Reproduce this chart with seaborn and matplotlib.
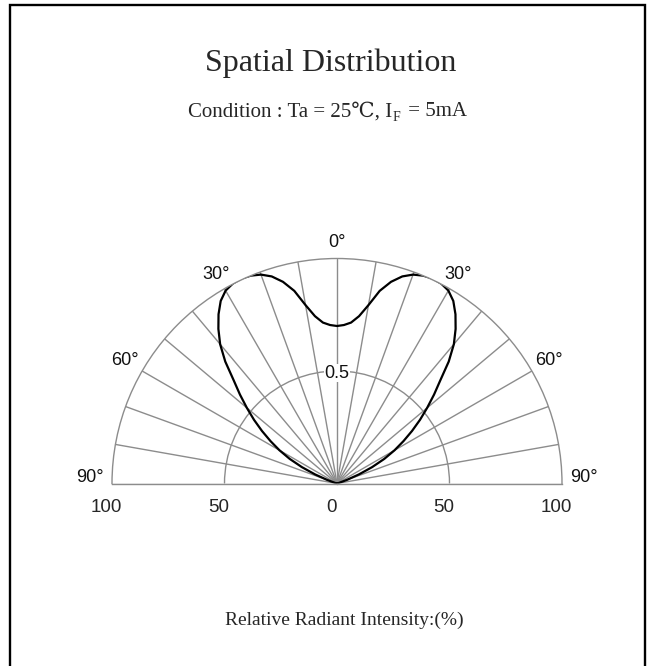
"""
Spatial distribution (polar radiation pattern) of the LED,
saved as out.png
"""

import numpy as np
import pandas as pd
import matplotlib.pyplot as plt
import seaborn as sns
from matplotlib.patches import Rectangle
from matplotlib import font_manager

# ------------------------------#
# Data (symmetric about 0 deg)
angle_deg = [0, 2.5, 5, 7.5, 10, 12.5, 15, 17.5, 20, 22.5, 25, 27.5, 30,
             32.5, 35, 37.5, 40, 42.5, 45, 47.5, 50, 52.5, 55, 57.5, 60,
             62.5, 65, 67.5, 70, 72.5, 75, 80, 85, 90]
intensity = [0.700, 0.705, 0.718, 0.750, 0.805, 0.877, 0.928, 0.965, 0.988,
             1.000, 1.005, 1.002, 0.990, 0.962, 0.918, 0.866, 0.808, 0.735,
             0.650, 0.585, 0.523, 0.465, 0.407, 0.350, 0.295, 0.237, 0.172,
             0.105, 0.045, 0.010, 0.0, 0.0, 0.0, 0.0]

grid_angles = list(range(-90, 91, 10))
ring_values = [0.5]
angle_marks = [0, 30, 60, 90]
angle_labels = ["0°", "30°", "60°", "90°"]
scale_pos = [-1.0, -0.5, 0.0, 0.5, 1.0]
scale_labels = ["100", "50", "0", "50", "100"]

grid_color = "#8c8c8c"
# ------------------------------#

# mirror the half curve to get the full -90..90 pattern
left = pd.DataFrame({"angle": [-a for a in angle_deg[::-1]], "r": intensity[::-1]})
right = pd.DataFrame({"angle": angle_deg[1:], "r": intensity[1:]})
pattern = pd.concat([left, right], ignore_index=True)
pattern["theta"] = np.deg2rad(pattern["angle"])

sns.set_theme(style="white")
plt.rcParams["font.family"] = ["Liberation Sans", "DejaVu Sans"]
serif = ["Liberation Serif", "DejaVu Serif", "DejaVu Sans"]

# narrow sans for the angle marks if it is there
installed = {f.name for f in font_manager.fontManager.ttflist}
narrow = ["Liberation Sans Narrow", "Liberation Sans"] if "Liberation Sans Narrow" in installed \
    else ["Liberation Sans"]

W, H = 650, 666
fig = plt.figure(figsize=(W / 100, H / 100), dpi=100)

# outer frame of the datasheet panel
fig.patches.append(
    Rectangle((9.5 / W, -0.05), 635.5 / W, 1.05 - 5 / H, transform=fig.transFigure,
              fill=False, edgecolor="black", lw=1.7)
)

# polar wedge is fitted in a square box, centre of the half disc = box centre
ax = fig.add_axes([112 / W, 1 - 596 / H, 450 / W, 450 / H], projection="polar")
ax.set_theta_zero_location("N")
ax.set_theta_direction(-1)
ax.set_thetamin(-90)
ax.set_thetamax(90)
ax.set_ylim(0, 1)
ax.set_thetagrids(grid_angles, labels=[""] * len(grid_angles))
ax.set_rgrids(ring_values, labels=[""] * len(ring_values))
ax.grid(True, color=grid_color, lw=1.0)
for sp in ax.spines.values():
    sp.set_color(grid_color)
    sp.set_linewidth(1.0)

sns.lineplot(data=pattern, x="theta", y="r", sort=False, color="black", lw=1.6,
             ax=ax, legend=False)
ax.lines[-1].set_solid_joinstyle("round")
ax.set_xlabel("")
ax.set_ylabel("")

# angle labels round the outside
label_r = {0: 1.07, 30: 1.075, 60: 1.09, 90: 1.098}
for a, lab in zip(angle_marks, angle_labels):
    sides = [0] if a == 0 else [-a, a]
    for s in sides:
        th = np.deg2rad(s if abs(s) < 90 else np.sign(s) * 88.6)
        ax.text(th, label_r[a], lab, ha="center", va="center", fontsize=13,
                family=narrow, color="#111111")

ax.text(0, 0.49, "0.5", ha="center", va="center", fontsize=13, family=narrow,
        color="#111111", bbox=dict(facecolor="white", edgecolor="none", pad=0.3))

# intensity scale under the base line
for p, lab in zip(scale_pos, scale_labels):
    ax.annotate(lab, xy=(np.deg2rad(90 if p > 0 else -90), abs(p)),
                xytext=(-4, -17.5), textcoords="offset points",
                ha="center", va="center", fontsize=13.5, annotation_clip=False)

fig.text(331 / W, 1 - 63 / H, "Spatial Distribution", ha="center", va="center",
         fontsize=23, family=serif)

# condition line: I with a subscript F, built from three pieces
t1 = fig.text(188 / W, 1 - 112 / H, "Condition : Ta = 25℃, I", ha="left",
              va="center", fontsize=15, family=serif)
ax.annotate("F", xy=(1, 0), xycoords=t1, xytext=(0.3, -1.5),
            textcoords="offset points", ha="left", va="bottom",
            fontsize=10, family=serif, annotation_clip=False)
ax.annotate(" = 5mA", xy=(1, 0), xycoords=t1, xytext=(7.5, 0),
            textcoords="offset points", ha="left", va="bottom",
            fontsize=15, family=serif, annotation_clip=False)

fig.text(344 / W, 1 - 620 / H, "Relative Radiant Intensity:(%)", ha="center",
         va="center", fontsize=14, family=serif)

fig.savefig("out.png", dpi=100)
